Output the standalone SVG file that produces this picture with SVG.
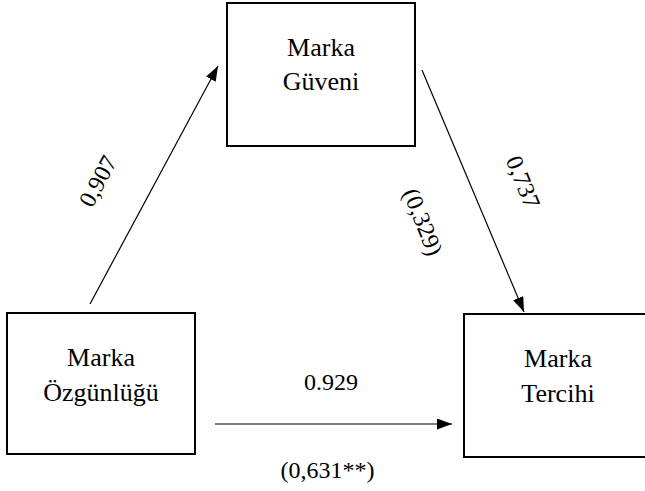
<svg xmlns="http://www.w3.org/2000/svg" width="645" height="491" viewBox="0 0 645 491">
  <style>
    .box { fill: #ffffff; stroke: #000000; stroke-width: 2; }
    .node-text { font-family: 'Liberation Serif', 'DejaVu Serif', 'Times New Roman', serif; font-size: 26px; fill: #000000; text-anchor: middle; }
    .label { font-family: 'Liberation Serif', 'DejaVu Serif', 'Times New Roman', serif; font-size: 24px; fill: #000000; text-anchor: middle; }
    .edge { stroke: #000000; stroke-width: 1.2; fill: none; marker-end: url(#arrow); }
  </style>
  <defs>
    <marker id="arrow" markerUnits="userSpaceOnUse" markerWidth="16" markerHeight="11" refX="15" refY="5.5" orient="auto">
      <path d="M0,0 L15,5.5 L0,11 z" fill="#000000"/>
    </marker>
  </defs>
  <rect width="645" height="491" fill="#ffffff"/>

  <!-- connectors -->
  <g id="connectors">
    <line class="edge" x1="90" y1="304" x2="218" y2="66"/>
    <line class="edge" x1="422" y1="70" x2="524" y2="312"/>
    <line class="edge" x1="215" y1="424" x2="452" y2="424"/>
    <text class="label" font-family="Liberation Serif, DejaVu Serif, serif" transform="translate(105,185) rotate(-62)">0,907</text>
    <text class="label" font-family="Liberation Serif, DejaVu Serif, serif" transform="translate(415.5,225) rotate(68)">(0,329)</text>
    <text class="label" font-family="Liberation Serif, DejaVu Serif, serif" transform="translate(515.6,185) rotate(68)">0,737</text>
    <text class="label" font-family="Liberation Serif, DejaVu Serif, serif" x="331" y="390">0.929</text>
    <text class="label" font-family="Liberation Serif, DejaVu Serif, serif" x="327.5" y="478">(0,631**)</text>
  </g>

  <!-- nodes -->
  <g id="marka-guveni">
    <rect class="box" x="227" y="3" width="188" height="143"/>
    <text class="node-text" font-family="Liberation Serif, DejaVu Serif, serif" x="321" y="56">Marka</text>
    <text class="node-text" font-family="Liberation Serif, DejaVu Serif, serif" x="321" y="90">Güveni</text>
  </g>
  <g id="marka-ozgunlugu">
    <rect class="box" x="7" y="313" width="188" height="141"/>
    <text class="node-text" font-family="Liberation Serif, DejaVu Serif, serif" x="101" y="366">Marka</text>
    <text class="node-text" font-family="Liberation Serif, DejaVu Serif, serif" x="101" y="401">Özgünlüğü</text>
  </g>
  <g id="marka-tercihi">
    <rect class="box" x="464" y="314" width="190" height="143"/>
    <text class="node-text" font-family="Liberation Serif, DejaVu Serif, serif" x="558" y="367">Marka</text>
    <text class="node-text" font-family="Liberation Serif, DejaVu Serif, serif" x="558" y="402">Tercihi</text>
  </g>
</svg>
